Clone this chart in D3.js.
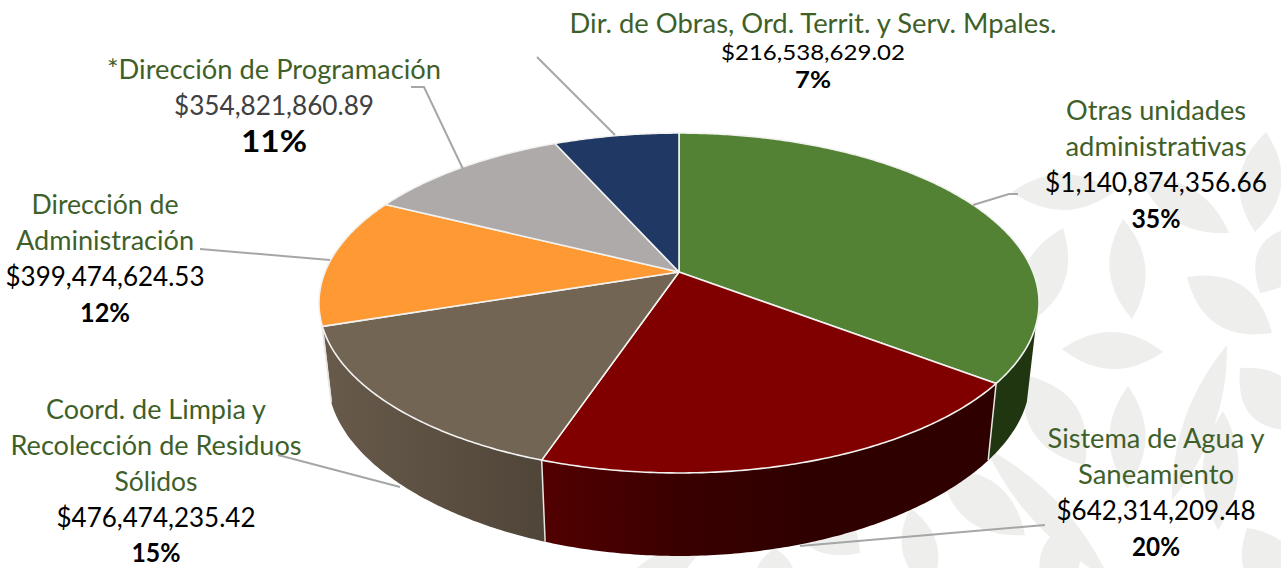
<!DOCTYPE html>
<html>
<head>
<meta charset="utf-8">
<script src="https://cdn.jsdelivr.net/npm/d3@7"></script>
<style>
	html, body {margin: 0; padding: 0; background: #fff; overflow: hidden;}
	text {font-family: Lato, "Open Sans", sans-serif; text-anchor: middle;}
</style>
</head>
<body>
<div id="chart"></div>
<script>

// values, clockwise from the top of the pie
var units = ["Otras unidades administrativas", "Sistema de Agua y Saneamiento", "Coord. de Limpia y Recolección de Residuos Sólidos",
			"Dirección de Administración", "*Dirección de Programación", "Dir. de Obras, Ord. Territ. y Serv. Mpales."];
var amounts = [1140874356.66, 642314209.48, 476474235.42, 399474624.53, 354821860.89, 216538629.02];
var topColors = ["#548235", "#800000", "#726554", "#ff9933", "#aeaaaa", "#1f3864"];

var width = 1281, height = 568;

// how the flat pie is tipped over: apex, radii and perspective of the top face
var apexX = 679, apexY = 272, radiusX = 354, radiusY = 164.3, persp = 0.1824;
// the wall only shows between these two angles (degrees)
var wallFrom = 108, wallTo = 252;

var fmtAmount = d3.format("$,.2f");
var fmtPct = d3.format(".0%");
var total = d3.sum(amounts);

var wallDepth = d3.scalePow().exponent(4).domain([0, 1]).range([76, 83]).clamp(true);

function topPoint(angle) {
	var u = Math.sin(angle), v = -Math.cos(angle), w = 1 - persp * v;
	return [apexX + radiusX * u / w, apexY + radiusY * v / w];
}

function bottomPoint(angle) {
	var p = topPoint(angle);
	return [apexX + (p[0] - apexX) * 0.975, p[1] + wallDepth(-Math.cos(angle))];
}

function arcAngles(a0, a1) {
	var n = Math.max(2, Math.ceil((a1 - a0) / 0.01));
	return d3.range(n + 1).map(function(i) {return a0 + (a1 - a0) * i / n;});
}

var svg = d3.select("#chart").append("svg").attr("width", width).attr("height", height);
var defs = svg.append("defs");
var line = d3.line();

// background leaves: two tips and the width of each one
var leaves = [[1012,192,1114,192,36],[1140,178,1229,233,36],[1266,132,1255,232,42],[1063,228,1025,325,42],
	[1123,219,1132,319,36],[1187,277,1272,333,46],[1260,293,1300,225,46],[1062,349,1163,352,37],
	[1227,345,1172,500,30],[1128,386,1127,488,36],[1223,411,1218,530,36],[1240,368,1300,430,50],
	[985,447,1110,580,30],[1025,375,1085,465,50],[1070,520,1050,600,40],[1247,528,1290,600,50],
	[940,470,1025,535,46],[910,508,930,590,35],[790,500,860,553,50],[775,548,775,600,38],[700,550,620,590,30]];

svg.append("g").selectAll("path")
	.data(leaves)
	.enter()
	.append("path")
	.attr("fill", "#eeeeec")
	.attr("d", function(d) {
		var mx = (d[0] + d[2]) / 2, my = (d[1] + d[3]) / 2;
		var dx = d[2] - d[0], dy = d[3] - d[1], len = Math.sqrt(dx * dx + dy * dy);
		var nx = -dy / len * d[4], ny = dx / len * d[4];
		return "M" + d[0] + "," + d[1] + "Q" + (mx + nx) + "," + (my + ny) + " " + d[2] + "," + d[3]
			+ "Q" + (mx - nx) + "," + (my - ny) + " " + d[0] + "," + d[1] + "Z";
	});

// wall shading
function wallGradient(id, x1, x2, stops) {
	var g = defs.append("linearGradient").attr("id", id)
		.attr("gradientUnits", "userSpaceOnUse")
		.attr("x1", x1).attr("x2", x2).attr("y1", 0).attr("y2", 0);
	stops.forEach(function(s) {
		g.append("stop").attr("offset", s[0]).attr("stop-color", s[1]);
	});
	return "url(#" + id + ")";
}
var wallFills = [
	"#203610",
	wallGradient("wallRed", 545, 990, [[0, "#520000"], [0.3, "#3a0000"], [0.6, "#2e0000"], [1, "#2e0000"]]),
	wallGradient("wallBrown", 330, 545, [[0, "#675a4b"], [1, "#4f4538"]]),
	"none", "none", "none"
];

var slices = d3.pie().sort(null)(amounts);
var wallA0 = wallFrom * Math.PI / 180, wallA1 = wallTo * Math.PI / 180;

// walls first, the top faces go over them
svg.append("g").selectAll("path")
	.data(slices.filter(function(d) {return d.endAngle > wallA0 && d.startAngle < wallA1;}))
	.enter()
	.append("path")
	.attr("fill", function(d) {return wallFills[d.index];})
	.attr("d", function(d) {
		var angles = arcAngles(Math.max(d.startAngle, wallA0), Math.min(d.endAngle, wallA1));
		return line(angles.map(topPoint).concat(angles.slice().reverse().map(bottomPoint))) + "Z";
	});

// light lines on the wall edges
var wallEdges = slices.map(function(d) {return d.endAngle;})
	.filter(function(a) {return a > wallA0 && a < wallA1;})
	.concat([wallA1]);

svg.append("g").selectAll("path")
	.data(wallEdges)
	.enter()
	.append("path")
	.attr("fill", "none")
	.attr("stroke", "#e8e6e2")
	.attr("stroke-width", 1.5)
	.attr("d", function(a) {return line([topPoint(a), bottomPoint(a)]);});

svg.append("g").selectAll("path")
	.data(slices)
	.enter()
	.append("path")
	.attr("fill", function(d) {return topColors[d.index];})
	.attr("stroke", "#f2f2f0")
	.attr("stroke-width", 1.6)
	.attr("stroke-linejoin", "round")
	.attr("d", function(d) {
		return line([[apexX, apexY]].concat(arcAngles(d.startAngle, d.endAngle).map(topPoint))) + "Z";
	});

// leader lines
var leaders = [
	[[973,205],[1009,194],[1018,194]],
	[[800,546],[1045,525]],
	[[400,487],[278,455]],
	[[330,260],[200,249]],
	[[463,169],[424,87],[411,87]],
	[[615,135],[537,57]]
];

svg.append("g").selectAll("path")
	.data(leaders)
	.enter()
	.append("path")
	.attr("fill", "none")
	.attr("stroke", "#a6a6a6")
	.attr("stroke-width", 2)
	.attr("d", function(d) {return line(d);});

// label text, broken into lines as in the chart
var nameLines = [
	["Otras unidades", "administrativas"],
	["Sistema de Agua y", "Saneamiento"],
	["Coord. de Limpia y", "Recolección de Residuos", "Sólidos"],
	["Dirección de", "Administración"],
	["*Dirección de Programación"],
	["Dir. de Obras, Ord. Territ. y Serv. Mpales."]
];
var nameWidths = [[180, 181], [217, 156], [220, 291, 83], [147, 178], [334], [487]];
var amountWidths = [222, 199, 199, 199, 200, 184];
var pctWidths = [49, 48, 49, 50, 66, 36];
var labelX = [1156, 1156, 156, 105, 274, 813];
var firstBaseline = [120, 448, 419, 214, 79, 33];
var lineStep = [36, 36, 36, 36, 36, 27];
var pctStep = [36, 36, 35, 36, 37, 28];
var nameSize = 26;
var amountSize = [26, 26, 26, 26, 26, 21];
var pctSize = [26, 26, 26, 26, 31, 23];
var amountColor = ["#000", "#000", "#000", "#000", "#404040", "#000"];

function addText(x, y, txt, w, size, color, weight) {
	svg.append("text")
		.attr("x", x).attr("y", y)
		.attr("textLength", w)
		.attr("lengthAdjust", "spacingAndGlyphs")
		.attr("font-size", size)
		.attr("font-weight", weight)
		.attr("fill", color)
		.text(txt);
}

units.forEach(function(unit, i) {
	var y = firstBaseline[i];
	nameLines[i].forEach(function(t, j) {
		addText(labelX[i], y, t, nameWidths[i][j], nameSize, "#3f5f2a", 400);
		y += lineStep[i];
	});
	addText(labelX[i], y, fmtAmount(amounts[i]), amountWidths[i], amountSize[i], amountColor[i], 400);
	y += pctStep[i];
	addText(labelX[i], y, fmtPct(amounts[i] / total), pctWidths[i], pctSize[i], "#000", 700);
});

</script>
</body>
</html>
